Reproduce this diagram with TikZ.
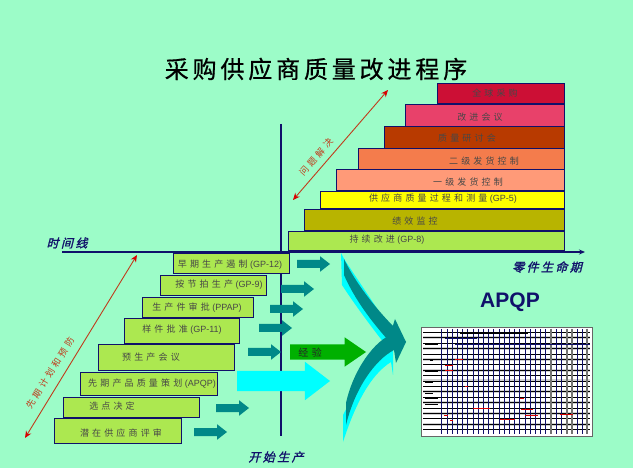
\documentclass[tikz,border=0pt]{standalone}
\usepackage{fontspec}
\setmainfont{Liberation Sans}
\newfontfamily\cjk[LetterSpace=35]{Noto Sans CJK SC}
\newfontfamily\cjktitle[LetterSpace=16,FakeBold=0.6]{Noto Sans CJK SC}
\newfontfamily\cjkaxis[LetterSpace=20,FakeSlant=0.25,FakeBold=1.5]{Noto Sans CJK SC}
\usetikzlibrary{shapes.arrows,arrows.meta}
\definecolor{bgmint}{HTML}{9CFCC8}
\definecolor{navyline}{HTML}{10106A}
\definecolor{stepgreen}{HTML}{ACE850}
\definecolor{tealflow}{HTML}{008888}
\definecolor{redline}{HTML}{C03C1C}
\definecolor{stepcrimson}{HTML}{CC0F35}
\definecolor{steppink}{HTML}{E8416A}
\definecolor{stepbrick}{HTML}{B83A00}
\definecolor{steporange}{HTML}{F47C4C}
\definecolor{stepsalmon}{HTML}{FF9A78}
\definecolor{stepyellow}{HTML}{FFFF00}
\definecolor{stepolive}{HTML}{B8B400}
\definecolor{flowgreen}{HTML}{00B000}
\definecolor{flowcyan}{HTML}{00FFFF}
\tikzset{
	stepbox/.style={draw=navyline,line width=0.9pt,anchor=north west,inner sep=0pt},
	steptext/.style={text=black!72,font=\fontsize{9}{10}\selectfont},
	axislabel/.style={text=navyline,font=\fontsize{12}{13}\selectfont\cjkaxis},
	redlabel/.style={text=redline,font=\fontsize{9}{10}\selectfont\cjk},
	tealarrow/.style={single arrow,anchor=tail,fill=tealflow,inner xsep=0pt,inner ysep=3.8pt,outer sep=0pt,minimum height=33pt,
		single arrow head extend=3.8pt,single arrow tip angle=76,single arrow head indent=0pt},
	solution/.style={redline,line width=0.9pt,{Stealth[length=7pt,width=6pt,red!85!black]}-{Stealth[length=7pt,width=6pt,red!85!black]}},
}
\newcommand{\stepnode}[6]{\node[stepbox,fill=#2,minimum width=#5pt,minimum height=#6pt] (#1) at (#3,#4) {};}
\begin{document}
\begin{tikzpicture}[x=1pt,y=-1pt]
	\useasboundingbox (0,0) rectangle (633,468);
	\fill[bgmint] (0,0) rectangle (633,468);
	%Tieu de
	\node (title) at (316,69) {\fontsize{24}{28}\selectfont\cjktitle 采购供应商质量改进程序};
	%Truc
	\coordinate (axisL) at (62,252);
	\coordinate (axisR) at (585,252);
	\coordinate (axisT) at (281,124);
	\coordinate (axisB) at (281,436);
	\draw[navyline,line width=1.3pt,-{Stealth[length=6pt,width=5pt]}] (axisL)--(axisR);
	\draw[navyline,line width=1.1pt] (axisT)--(axisB);
	\node[axislabel] (timeline) at (67,243) {时间线};
	\node[axislabel] (lifecycle) at (547,267) {零件生命期};
	\node[axislabel] (startprod) at (276,457) {开始生产};
	%Bac tren
	\stepnode{u8}{stepcrimson}{437}{83}{127}{20}
	\stepnode{u7}{steppink}{405}{104}{159}{22}
	\stepnode{u6}{stepbrick}{384}{126}{180}{22}
	\stepnode{u5}{steporange}{358}{148}{206}{21}
	\stepnode{u4}{stepsalmon}{336}{169}{228}{21}
	\stepnode{u3}{stepyellow}{320}{191}{244}{17.5}
	\stepnode{u2}{stepolive}{304}{209}{260}{21}
	\stepnode{u1}{stepgreen}{288}{231}{276}{19.5}
	\node[steptext] at (495,93) {\cjk 全球采购};
	\node[steptext] at (480,117) {\cjk 改进会议};
	\node[steptext] at (467,138) {\cjk 质量研讨会};
	\node[steptext] at (484,161) {\cjk 二级发货控制};
	\node[steptext] at (468,182) {\cjk 一级发货控制};
	\node[steptext] at (443,199) {{\cjk 供应商质量过程和测量} (GP-5)};
	\node[steptext] at (415,221) {\cjk 绩效监控};
	\node[steptext] at (387,240) {{\cjk 持续改进} (GP-8)};
	%Bac duoi
	\stepnode{d8}{stepgreen}{173}{253}{116}{20}
	\stepnode{d7}{stepgreen}{160}{275}{106}{20}
	\stepnode{d6}{stepgreen}{142}{297}{111}{20}
	\stepnode{d5}{stepgreen}{124}{318}{115}{25}
	\stepnode{d4}{stepgreen}{98}{344}{136}{26}
	\stepnode{d3}{stepgreen}{80}{372}{137}{23}
	\stepnode{d2}{stepgreen}{63}{397}{136}{20}
	\stepnode{d1}{stepgreen}{54}{418}{127}{25}
	\node[steptext] at (230,265) {{\cjk 早期生产遏制} (GP-12)};
	\node[steptext] at (219,285) {{\cjk 按节拍生产} (GP-9)};
	\node[steptext] at (197,308) {{\cjk 生产件审批} (PPAP)};
	\node[steptext] at (182,330) {{\cjk 样件批准} (GP-11)};
	\node[steptext] at (151,357) {\cjk 预生产会议};
	\node[steptext] at (152,384) {{\cjk 先期产品质量策划} (APQP)};
	\node[steptext] at (112,406) {\cjk 选点决定};
	\node[steptext] at (121,433) {\cjk 潜在供应商评审};
	%Mui ten do
	\coordinate (solveA) at (293,200);
	\coordinate (solveB) at (388,90);
	\coordinate (planA) at (25,438);
	\coordinate (planB) at (137,255);
	\draw[solution] (solveA)--(solveB);
	\draw[solution] (planA)--(planB);
	\node[redlabel,rotate=49] (solvetext) at (316,157) {问题解决};
	\node[redlabel,rotate=58] (plantext) at (50,373) {先期计划和预防};
	%Mui ten xanh
	\node[tealarrow] (f8) at (297,264) {};
	\node[tealarrow] (f7) at (281,289) {};
	\node[tealarrow] (f6) at (270,309) {};
	\node[tealarrow] (f5) at (259,328) {};
	\node[tealarrow] (f4) at (248,352) {};
	\node[tealarrow] (f2) at (216,408) {};
	\node[tealarrow] (f1) at (194,432) {};
	\node[single arrow,anchor=tail,fill=flowcyan,inner xsep=0pt,inner ysep=10pt,outer sep=0pt,minimum height=93pt,single arrow head extend=9pt,
		single arrow tip angle=75,single arrow head indent=0pt] (bigflow) at (237,381) {};
	\node[single arrow,anchor=tail,fill=flowgreen,inner xsep=0pt,inner ysep=7.5pt,outer sep=0pt,minimum height=76pt,single arrow head extend=7pt,
		single arrow tip angle=69,single arrow head indent=0pt] (expflow) at (290,352) {};
	\node[text=black!85,font=\fontsize{10}{12}\selectfont\cjk] (exptext) at (310,353) {经验};
	%Mui ten lon
	\fill[flowcyan] (341,253)--(342,285) .. controls (355,305) and (370,325) .. (384,343)--(398,340)--(344,259)--cycle;
	\fill[flowcyan] (343,442)--(343,415)--(380,345)--(393,350)--(393,375)--(391,362) .. controls (370,375) and (355,405) .. (343,442)--cycle;
	\fill[tealflow] (344,259) .. controls (355,282) and (375,308) .. (395,328)--(406,342)--(388,340) .. controls (372,322) and (355,300) .. (344,275)--cycle;
	\fill[tealflow] (346,403) .. controls (352,375) and (370,345) .. (390,335)--(395,319)--(406,342)--(396,363)--(394,350) .. controls (375,360) and (355,388) .. (346,425)--cycle;
	%APQP
	\node[text=navyline,font=\fontsize{21}{24}\selectfont\bfseries] (apqp) at (510,302) {APQP};
	\node[draw=black!60,fill=white,line width=0.8pt,anchor=north west,minimum width=171pt,minimum height=109pt,inner sep=0pt] (chart) at (421,327) {};
	\foreach \i in {1,3,5,7,9,11,13,15,17}
		\fill[black!18] (423,{332.3+5.4*\i-1.5}) rectangle (590,{332.3+5.4*\i+1.5});
	\foreach \i in {0,...,18}
		\draw[black,line width=0.5pt] (423,{332.3+5.4*\i})--(590,{332.3+5.4*\i});
	\foreach \i in {0,...,28}
		\draw[navyline,line width=0.7pt] ({441.7+5.2*\i},329)--({441.7+5.2*\i},434);
	\foreach \x in {551,567,572,587}
		\draw[black!55,line width=1.5pt] (\x,329)--(\x,434);
	\draw[black,line width=1.2pt] (460,333)--(528,333);
	\draw[navyline,line width=0.8pt] (445,338)--(477,338);
	\draw[navyline,line width=0.9pt] (455,344)--(590,344);
	\foreach \a/\b/\y in {425/438/344,430/433/360,425/438/371,425/433/382,425/433/393,425/438/398,425/438/404}
		\draw[black,line width=0.9pt] (\a,\y)--(\b,\y);
	\foreach \a/\b/\y in {455/463/360,445/453/366,445/453/371,465/468/387,520/524/398,473/490/408,521/533/409,525/538/415,560/573/414,444/448/415,450/453/420,500/515/419}
		\draw[red!85!black,line width=1pt] (\a,\y)--(\b,\y);
\end{tikzpicture}
\end{document}
